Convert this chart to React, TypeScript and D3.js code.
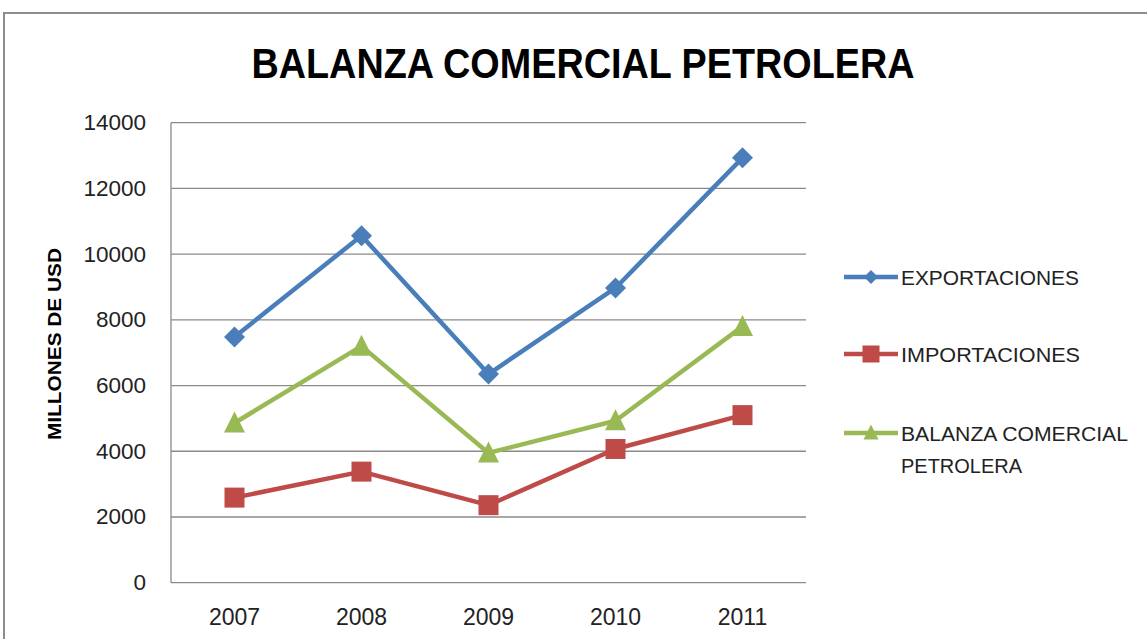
import React from "react";
import * as d3 from "d3";

const years = ["2007", "2008", "2009", "2010", "2011"];
const exportaciones = [7480, 10560, 6350, 8970, 12930];
const importaciones = [2590, 3380, 2360, 4070, 5100];
const balanza = [4860, 7200, 3950, 4930, 7800];
const yTicks = [0, 2000, 4000, 6000, 8000, 10000, 12000, 14000];

const series = [
  { name: ["EXPORTACIONES"], values: exportaciones, color: "#4A7EBB", marker: "diamond" },
  { name: ["IMPORTACIONES"], values: importaciones, color: "#BE4B48", marker: "square" },
  { name: ["BALANZA COMERCIAL", "PETROLERA"], values: balanza, color: "#98B954", marker: "triangle" },
];

const W = 1147;
const H = 639;
const left = 171;
const right = 806;
const top = 122.7;
const bottom = 582.7;

function markerPath(type: string, cx: number, cy: number, s: number) {
  const p = d3.path();
  if (type === "diamond") {
    const r = s / 2;
    p.moveTo(cx, cy - r);
    p.lineTo(cx + r, cy);
    p.lineTo(cx, cy + r);
    p.lineTo(cx - r, cy);
    p.closePath();
  } else if (type === "square") {
    const r = s / 2;
    p.rect(cx - r, cy - r, s, s);
  } else {
    const r = s / 2;
    p.moveTo(cx, cy - r - 1);
    p.lineTo(cx + r, cy + r - 1);
    p.lineTo(cx - r, cy + r - 1);
    p.closePath();
  }
  return p.toString();
}

export default function App() {
  const x = d3.scaleBand<string>().domain(years).range([left, right]);
  const y = d3.scaleLinear().domain([0, 14000]).range([bottom, top]);
  const cx = (d: string) => (x(d) as number) + x.bandwidth() / 2;
  const line = d3
    .line<number>()
    .x((_, i) => cx(years[i]))
    .y((v) => y(v));

  const font = "'Liberation Sans', Arial, sans-serif";
  const legendY = [277, 354, 433];
  const legendTextLen = [[178], [179], [227, 121]];
  const markerSize: Record<string, number> = { diamond: 21, square: 20, triangle: 21 };
  const legendMarkerSize: Record<string, number> = { diamond: 14, square: 17, triangle: 15 };

  return (
    <svg
      width={W}
      height={H}
      style={{ position: "absolute", left: 0, top: 0, background: "#fff" }}
      fontFamily={font}
    >
      <rect x={4} y={13} width={W + 10} height={H + 10} fill="#fff" stroke="#8c8c8c" strokeWidth={2} />
      <text
        x={583}
        y={78}
        textAnchor="middle"
        fontWeight="bold"
        fontSize={43}
        textLength={663}
        lengthAdjust="spacingAndGlyphs"
        fill="#000"
      >
        BALANZA COMERCIAL PETROLERA
      </text>

      {yTicks.map((t) => (
        <g key={t}>
          <line x1={left} x2={right} y1={y(t)} y2={y(t)} stroke="#8a8a8a" strokeWidth={1.3} />
          <text x={146} y={y(t) + 7.5} textAnchor="end" fontSize={22.5} fill="#222">
            {t}
          </text>
        </g>
      ))}
      <line x1={left} x2={left} y1={top} y2={bottom} stroke="#8a8a8a" strokeWidth={1.3} />

      {years.map((yr) => (
        <text key={yr} x={cx(yr)} y={625} textAnchor="middle" fontSize={23} fill="#222">
          {yr}
        </text>
      ))}

      <text
        transform="translate(61,344) rotate(-90)"
        textAnchor="middle"
        fontWeight="bold"
        fontSize={18}
        textLength={192}
        lengthAdjust="spacingAndGlyphs"
        fill="#000"
      >
        MILLONES DE USD
      </text>

      {series.map((s) => (
        <g key={s.name[0]}>
          <path d={line(s.values) || ""} fill="none" stroke={s.color} strokeWidth={4.5} strokeLinejoin="round" />
          {s.values.map((v, i) => (
            <path key={i} d={markerPath(s.marker, cx(years[i]), y(v), markerSize[s.marker])} fill={s.color} />
          ))}
        </g>
      ))}

      {series.map((s, k) => (
        <g key={"leg" + k}>
          <line x1={844} x2={898} y1={legendY[k]} y2={legendY[k]} stroke={s.color} strokeWidth={4.5} />
          <path d={markerPath(s.marker, 871, legendY[k], legendMarkerSize[s.marker])} fill={s.color} />
          {s.name.map((n, j) => (
            <text
              key={n}
              x={901}
              y={legendY[k] + 7.5 + j * 32}
              fontSize={20}
              textLength={legendTextLen[k][j]}
              lengthAdjust="spacingAndGlyphs"
              fill="#222"
            >
              {n}
            </text>
          ))}
        </g>
      ))}
    </svg>
  );
}
